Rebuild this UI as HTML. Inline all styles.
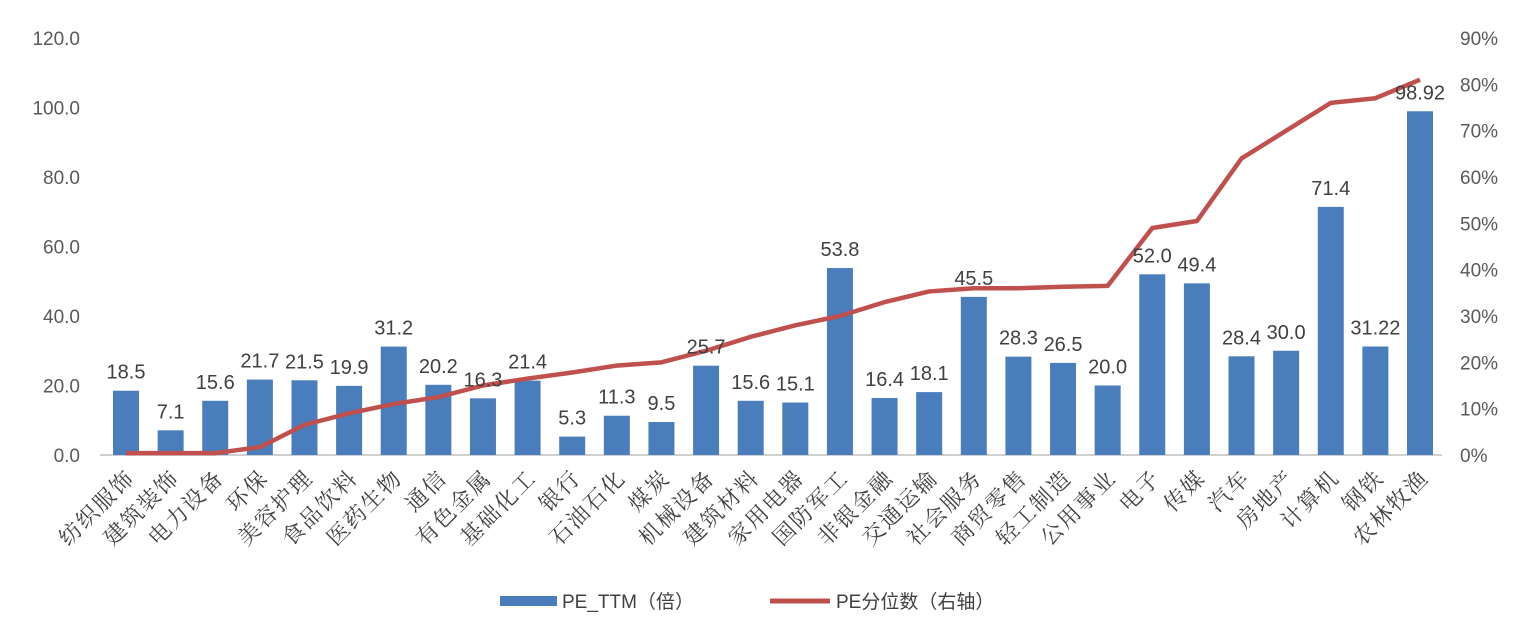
<!DOCTYPE html>
<html><head><meta charset="utf-8"><style>
body{margin:0;background:#fff;}
svg text{font-family:"Liberation Sans","Noto Sans CJK SC",sans-serif;}
svg text.cat{font-family:"Liberation Serif","Noto Serif CJK SC",serif;}
</style></head><body>
<svg id="chart" width="1527" height="627" xmlns="http://www.w3.org/2000/svg">
<g id="axes"></g><g id="bars"></g><g id="line"></g><g id="labels"></g>
<g>
<rect x="500" y="596" width="57" height="10" fill="#4a7dbb"/>
<text x="562" y="608" font-size="19" fill="#404040">PE_TTM（倍）</text>
<line x1="770" y1="601" x2="830" y2="601" stroke="#c0504d" stroke-width="5"/>
<text x="836" y="608" font-size="19" fill="#404040">PE分位数（右轴）</text>
</g>
</svg>
<script>
const categories=["纺织服饰","建筑装饰","电力设备","环保","美容护理","食品饮料","医药生物","通信","有色金属","基础化工","银行","石油石化","煤炭","机械设备","建筑材料","家用电器","国防军工","非银金融","交通运输","社会服务","商贸零售","轻工制造","公用事业","电子","传媒","汽车","房地产","计算机","钢铁","农林牧渔"];
const peValues=[18.5,7.1,15.6,21.7,21.5,19.9,31.2,20.2,16.3,21.4,5.3,11.3,9.5,25.7,15.6,15.1,53.8,16.4,18.1,45.5,28.3,26.5,20.0,52.0,49.4,28.4,30.0,71.4,31.22,98.92];
const peLabels=["18.5","7.1","15.6","21.7","21.5","19.9","31.2","20.2","16.3","21.4","5.3","11.3","9.5","25.7","15.6","15.1","53.8","16.4","18.1","45.5","28.3","26.5","20.0","52.0","49.4","28.4","30.0","71.4","31.22","98.92"];
const percentile=[0.4,0.4,0.4,1.7,6.5,9,11,12.5,15,16.5,17.8,19.3,20,22.5,25.5,28,30,33,35.3,36,36,36.3,36.5,49,50.5,64,70,76,77,81];
const leftTicks=["0.0","20.0","40.0","60.0","80.0","100.0","120.0"];
const rightTicks=["0%","10%","20%","30%","40%","50%","60%","70%","80%","90%"];
const NS="http://www.w3.org/2000/svg";
const x0=126,x1=1420,yTop=38,yBase=455;
const xs=i=>x0+i*(x1-x0)/(categories.length-1);
const yL=v=>yBase-v/120*(yBase-yTop);
const yR=p=>yBase-p/90*(yBase-yTop);
function mk(tag,attrs,parent,txt){const e=document.createElementNS(NS,tag);for(const k in attrs)e.setAttribute(k,attrs[k]);if(txt!==undefined)e.textContent=txt;document.getElementById(parent).appendChild(e);return e;}
const base=mk('line',{x1:100,y1:yBase,x2:1442,y2:yBase,stroke:'#bfbfbf','stroke-width':1.5},'axes');


leftTicks.forEach((t,i)=>{const e=mk('text',{x:80,y:yL(i*20)+7,'font-size':19,fill:'#595959','text-anchor':'end'},'axes',t);

});
rightTicks.forEach((t,i)=>{const e=mk('text',{x:1460,y:yR(i*10)+7,'font-size':19,fill:'#595959'},'axes',t);

});
categories.forEach((c,i)=>{
const x=xs(i);
const b=mk('rect',{x:x-13,y:yL(peValues[i]),width:26,height:yBase-yL(peValues[i]),fill:'#4a7dbb'},'bars');


const l=mk('text',{x:x,y:yL(peValues[i])-12,'font-size':20,fill:'#404040','text-anchor':'middle'},'labels',peLabels[i]);


const cl=mk('text',{class:'cat',x:x+10,y:yBase+24,'font-size':22,'letter-spacing':2,fill:'#404040','text-anchor':'end',transform:`rotate(-45 ${x+10} ${yBase+24})`},'axes',c);


});
const pts=percentile.map((p,i)=>xs(i)+','+yR(p)).join(' ');
const pl=mk('polyline',{points:pts,fill:'none',stroke:'#c0504d','stroke-width':4.5,'stroke-linejoin':'round'},'line');


</script>
</body></html>
